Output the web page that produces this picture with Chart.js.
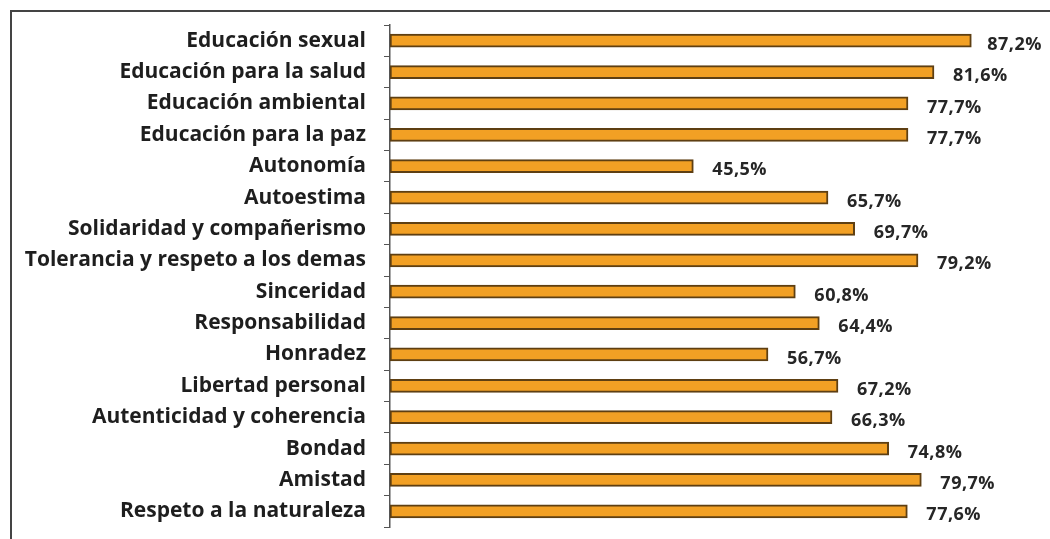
<!DOCTYPE html>
<html>
<head>
<meta charset="utf-8">
<script src="https://cdn.jsdelivr.net/npm/chart.js@4.4.0/dist/chart.umd.min.js"></script>
<style>
  html, body { margin: 0; padding: 0; background: #fff; }
  #wrap { width: 1050px; height: 539px; position: relative; }
</style>
</head>
<body>
<div id="wrap"><canvas id="chart"></canvas></div>
<script>
const categories = [
  'Educación sexual',
  'Educación para la salud',
  'Educación ambiental',
  'Educación para la paz',
  'Autonomía',
  'Autoestima',
  'Solidaridad y compañerismo',
  'Tolerancia y respeto a los demas',
  'Sinceridad',
  'Responsabilidad',
  'Honradez',
  'Libertad personal',
  'Autenticidad y coherencia',
  'Bondad',
  'Amistad',
  'Respeto a la naturaleza'
];
const percentages = [87.2, 81.6, 77.7, 77.7, 45.5, 65.7, 69.7, 79.2, 60.8, 64.4, 56.7, 67.2, 66.3, 74.8, 79.7, 77.6];

// frame around the picture plus value labels at bar ends
const extras = {
  id: 'extras',
  afterDraw(chart) {
    const ctx = chart.ctx;
    ctx.save();
    ctx.strokeStyle = '#444';
    ctx.lineWidth = 2;
    ctx.beginPath();
    ctx.moveTo(11, 539);
    ctx.lineTo(11, 11);
    ctx.lineTo(1050, 11);
    ctx.stroke();

    const meta = chart.getDatasetMeta(0);
    ctx.fillStyle = '#262626';
    ctx.font = '700 18px "Open Sans"';
    ctx.letterSpacing = '0.5px';
    ctx.textBaseline = 'middle';
    ctx.textAlign = 'left';
    meta.data.forEach((bar, i) => {
      const txt = percentages[i].toFixed(1).replace('.', ',') + '%';
      const w = ctx.measureText(txt).width;
      // keep the label inside the picture, like the original does for the longest bar
      const x = Math.min(bar.x + 19, 1042 - w);
      ctx.fillText(txt, x, bar.y + 4);
    });
    ctx.restore();
  }
};

new Chart(document.getElementById('chart'), {
  type: 'bar',
  data: {
    labels: categories,
    datasets: [{
      data: percentages,
      backgroundColor: '#F2A024',
      borderColor: '#5E3F12',
      borderWidth: 2,
      borderSkipped: false,
      barThickness: 13
    }]
  },
  options: {
    indexAxis: 'y',
    responsive: true,
    maintainAspectRatio: false,
    animation: false,
    layout: { padding: { top: 25, bottom: 12, left: 0, right: 0 } },
    plugins: {
      legend: { display: false },
      tooltip: { enabled: false }
    },
    scales: {
      x: {
        display: false,
        min: 0,
        max: 99
      },
      y: {
        afterFit(scale) {
          scale.width = 390;
          scale.paddingTop = 0;
          scale.paddingBottom = 0;
        },
        ticks: {
          color: '#1e1e1e',
          font: { family: 'Open Sans', size: 21, weight: '700' },
          padding: 18
        },
        grid: {
          drawOnChartArea: false,
          drawTicks: true,
          tickLength: 6,
          color: '#555',
          offset: true
        },
        border: { display: true, color: '#555', width: 1.5 }
      }
    }
  },
  plugins: [extras]
});
</script>
</body>
</html>
